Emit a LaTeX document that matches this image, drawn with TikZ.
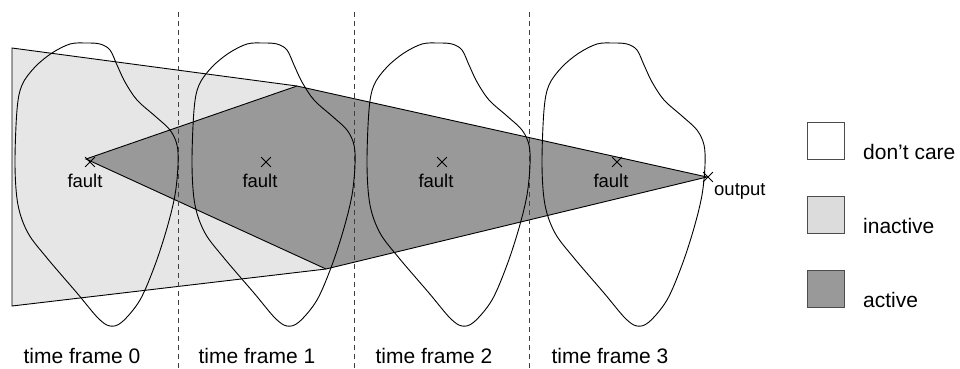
\documentclass[tikz,border=0pt]{standalone}
\usepackage{fontspec}
\setmainfont{Liberation Sans}
\usetikzlibrary{shapes.misc}
\definecolor{inact}{HTML}{E6E6E6}
\definecolor{inactleg}{HTML}{DCDCDC}
\definecolor{act}{HTML}{999999}
\tikzset{
  edge/.style={line width=0.9pt, line join=miter},
  blob/.style={line width=0.9pt},
  sep/.style={line width=0.8pt, black!75, dash pattern=on 5pt off 4pt},
  xmark/.style={cross out, draw, line width=0.8pt, minimum size=9pt, inner sep=0pt},
  small/.style={font=\fontsize{18.5}{22}\selectfont, inner sep=0pt},
  big/.style={font=\fontsize{21}{25}\selectfont, inner sep=0pt},
  legbox/.style={draw=black!70, line width=0.9pt, minimum size=37pt, inner sep=0pt},
}
\begin{document}
\begin{tikzpicture}[x=1pt,y=-1pt]
\useasboundingbox (0,0) rectangle (960,368);
% inactive region
\coordinate (L1) at (12,48);
\coordinate (L2) at (297,86);
\coordinate (L3) at (326,269);
\coordinate (L4) at (12,306);
\coordinate (D0) at (86,159);
\coordinate (OUT) at (707,177);
\fill[inact] (L1) -- (L2) -- (L3) -- (L4) -- cycle;
\draw[edge] (L2) -- (L1) -- (L4) -- (L3);
\draw[edge, fill=act] (D0) -- (L2) -- (OUT) -- (L3) -- cycle;
% separators
\foreach \x [count=\i] in {178,354,529} {
  \coordinate (s\i t) at (\x,12);
  \coordinate (s\i b) at (\x,368);
  \draw[sep] (s\i t) -- (s\i b);
}
% blobs
\foreach \dx in {0,177,352,527} {
  \draw[blob, xshift=\dx] plot[smooth cycle, tension=0.55] coordinates {
    (86,43) (100,44) (110,50) (117,65) (125,82) (137,100) (155,116) (170,130)
    (177,145) (178,165) (175,195) (167,228) (155,265) (140,300) (122,322)
    (110,326) (98,318) (77,293) (47,258) (28,233) (18,205) (15,165) (17,110)
    (22,85) (35,67) (52,53) (70,44)};
}
% crosses and labels
\node[xmark] (f0) at (90,162) {};
\node[xmark] (f1) at (266,162) {};
\node[xmark] (f2) at (442,162) {};
\node[xmark] (f3) at (617,162) {};
\node[xmark] (fo) at (708,177) {};
\node[small, anchor=base] (t0) at (85,187) {fault};
\node[small, anchor=base] (t1) at (260,187) {fault};
\node[small, anchor=base] (t2) at (436,187) {fault};
\node[small, anchor=base] (t3) at (611,187) {fault};
\node[small, anchor=base west] (to) at (714,195) {output};
% time frames
\node[big, anchor=base] (tf0) at (82,363) {time frame 0};
\node[big, anchor=base] (tf1) at (257,363) {time frame 1};
\node[big, anchor=base] (tf2) at (434,363) {time frame 2};
\node[big, anchor=base] (tf3) at (610,363) {time frame 3};
% legend
\node[legbox, fill=white] (lb1) at (825.5,140.5) {};
\node[legbox, fill=inactleg] (lb2) at (825.5,214.5) {};
\node[legbox, fill=act] (lb3) at (825.5,288.5) {};
\node[big, anchor=base west] (ll1) at (863,159) {don’t care};
\node[big, anchor=base west] (ll2) at (863,233) {inactive};
\node[big, anchor=base west] (ll3) at (863,307) {active};
\end{tikzpicture}
\end{document}
